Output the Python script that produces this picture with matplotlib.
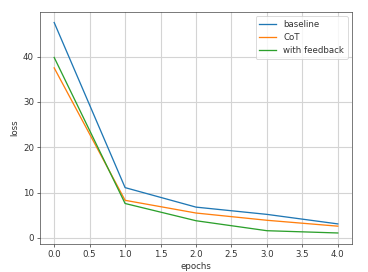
import numpy as np
import matplotlib
matplotlib.use("Agg")
import matplotlib.pyplot as plt

epochs = [0, 1, 2, 3, 4]
baseline = [47.5, 11.1, 6.8, 5.2, 3.1]
cot = [37.5, 8.3, 5.5, 3.9, 2.6]
feedback = [39.8, 7.6, 3.8, 1.6, 1.1]

plt.rcParams["text.color"] = "#333333"
plt.rcParams["xtick.color"] = "#333333"
plt.rcParams["ytick.color"] = "#333333"
plt.rcParams["axes.labelcolor"] = "#333333"
plt.rcParams["axes.edgecolor"] = "#444444"

dpi = 62.5
fig = plt.figure(figsize=(368 / dpi, 272 / dpi), dpi=dpi)
ax = fig.add_axes([40 / 368, 1 - 243.5 / 272, 312 / 368, 231.5 / 272])

ax.plot(epochs, baseline, label="baseline")
ax.plot(epochs, cot, label="CoT")
ax.plot(epochs, feedback, label="with feedback")
ax.set_xlabel("epochs")
ax.set_ylabel("loss")
ax.legend()
ax.grid(color="#d4d4d4", linewidth=1.3)

fig.savefig("out.png", dpi=dpi)
